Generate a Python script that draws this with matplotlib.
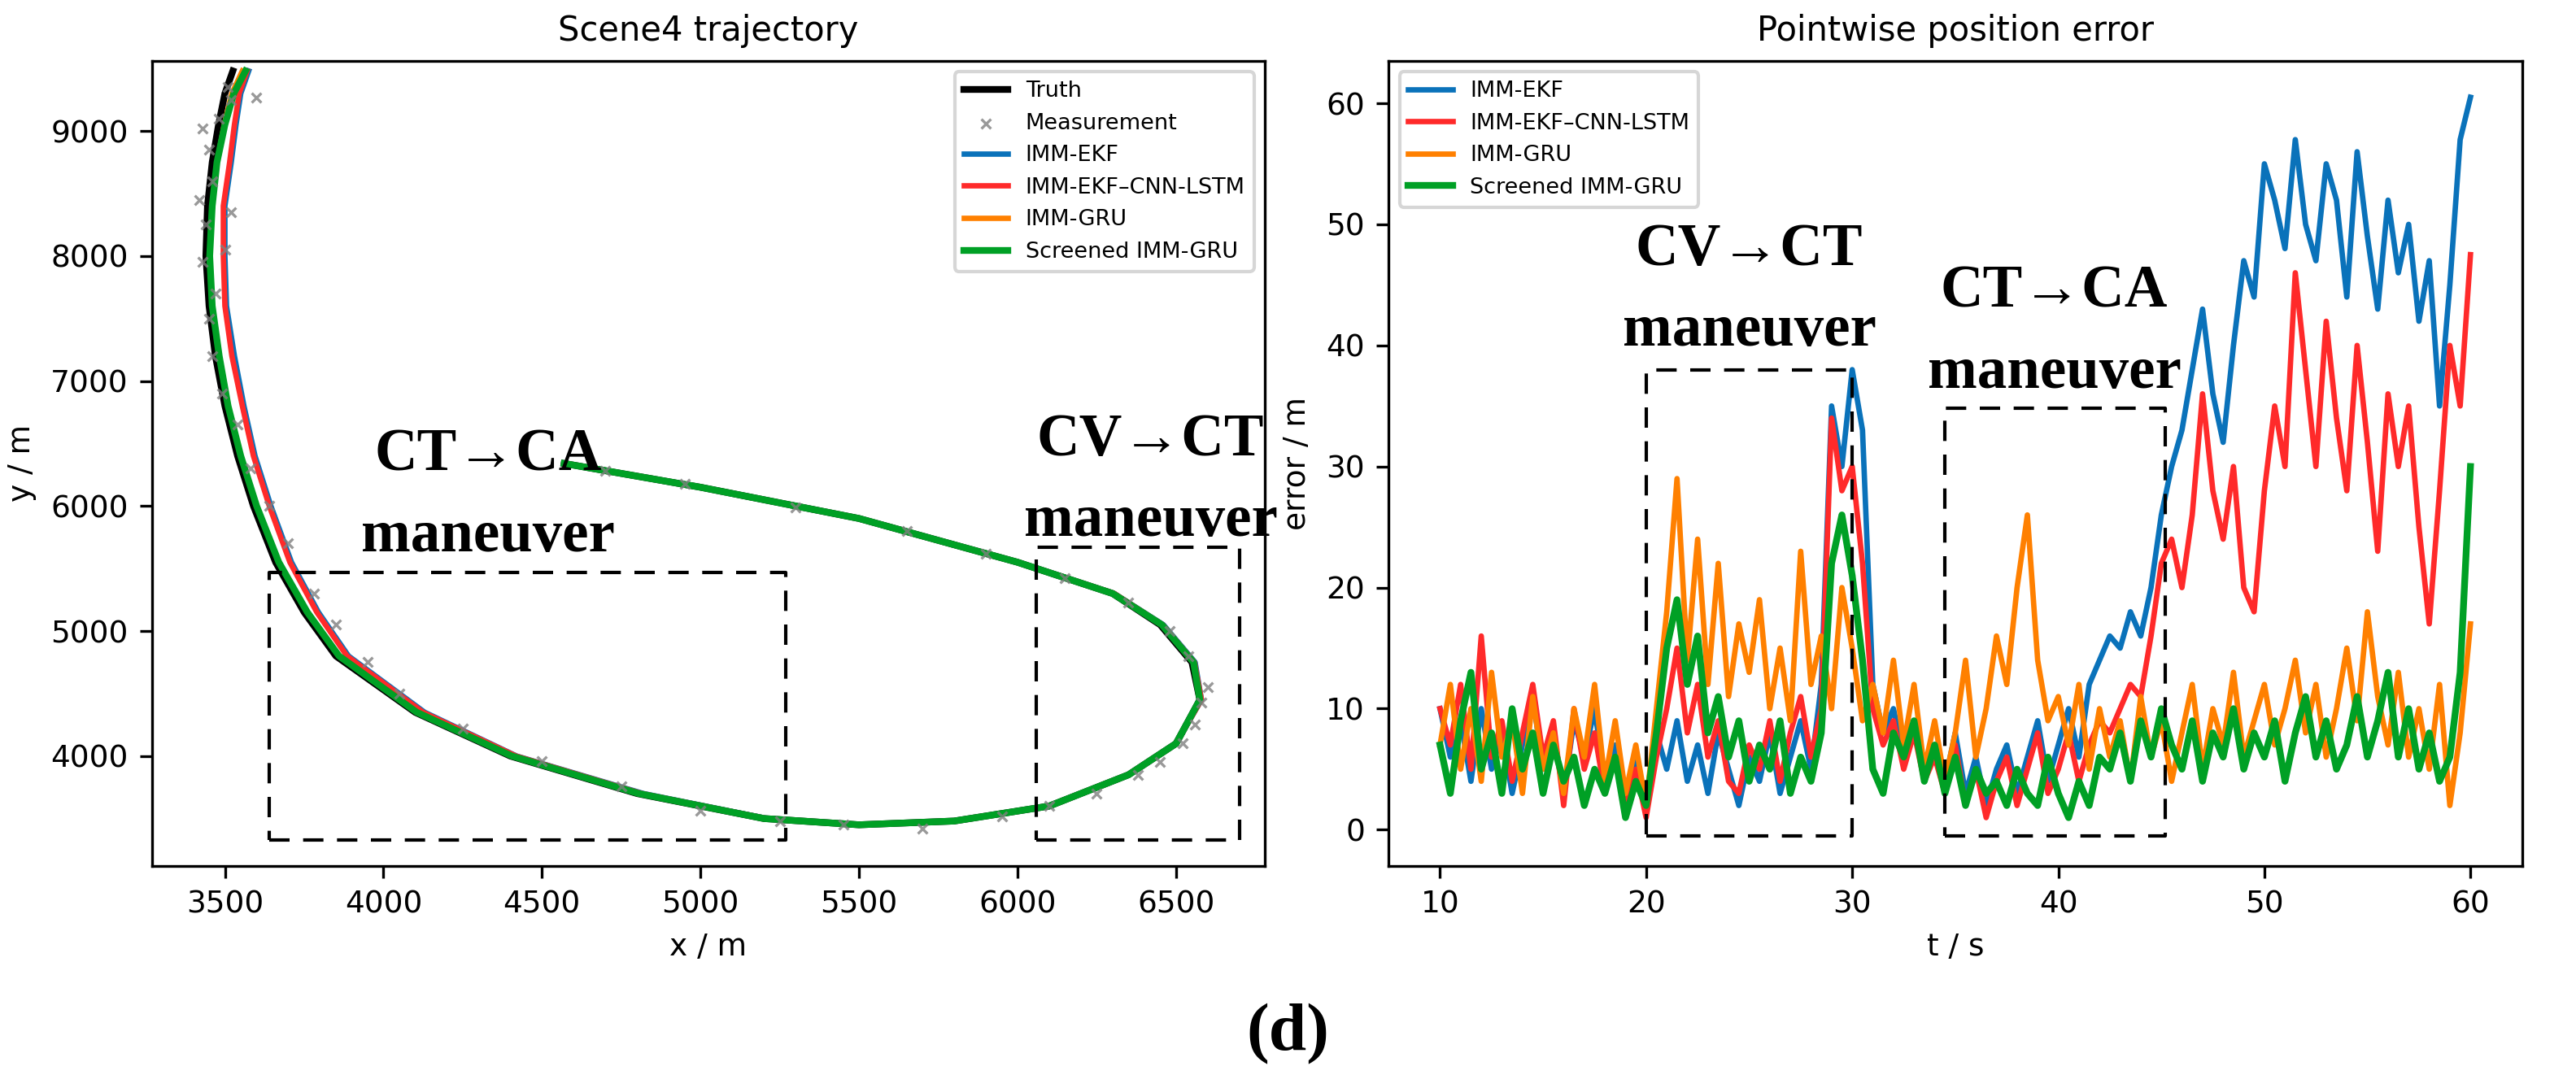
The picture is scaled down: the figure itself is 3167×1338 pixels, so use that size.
import numpy as np
import matplotlib.pyplot as plt

# --- trajectory (left panel) ---
truth_x = [4570, 5000, 5500, 6000, 6300, 6450, 6550, 6575, 6500, 6350, 6100, 5800, 5500, 5200, 4800, 4400,
           4100, 3850, 3750, 3660, 3590, 3540, 3500, 3470, 3450, 3440, 3445, 3460, 3480, 3500, 3525]
truth_y = [6340, 6150, 5900, 5550, 5300, 5050, 4750, 4450, 4100, 3850, 3600, 3480, 3450, 3500, 3700, 4000,
           4350, 4800, 5150, 5550, 6000, 6400, 6800, 7200, 7600, 8000, 8400, 8750, 9050, 9300, 9480]
ekf_dx = [0, 0, 0, 0, 5, 10, 10, 5, 0, 0, 0, 0, 0, 10, 20, 20, 30, 40, 45, 50, 55, 55, 60, 60, 55, 60, 55, 60, 55, 50, 50]
lstm_dx = [0, 0, 0, 0, 5, 8, 8, 5, 0, 0, 0, 0, 0, 8, 15, 18, 25, 35, 40, 45, 50, 50, 55, 52, 50, 55, 50, 55, 50, 45, 45]
gru_dx = [0, 0, 0, 0, 0, 5, 5, 0, 0, 0, 0, 0, 0, 0, 5, 5, 5, 10, 10, 10, 10, 10, 10, 12, 10, 12, 15, 15, 18, 22, 30]
scr_dx = [0, 0, 0, 0, 0, 5, 5, 0, 0, 0, 0, 0, 0, 0, 5, 5, 5, 10, 10, 10, 10, 10, 10, 12, 10, 12, 15, 15, 20, 28, 40]

meas_x = [4700, 4950, 5300, 5650, 5900, 6150, 6350, 6480, 6540, 6600, 6580, 6560, 6520, 6450, 6380, 6250,
          6100, 5950, 5700, 5450, 5250, 5000, 4750, 4500, 4250, 4050, 3950, 3850, 3780, 3700, 3640, 3580,
          3540, 3490, 3460, 3450, 3470, 3430, 3500, 3440, 3420, 3460, 3520, 3450, 3480, 3520, 3600, 3430, 3510]
meas_y = [6280, 6180, 5990, 5800, 5620, 5420, 5230, 5000, 4800, 4550, 4430, 4250, 4100, 3950, 3850, 3700,
          3600, 3520, 3420, 3450, 3480, 3560, 3760, 3960, 4220, 4500, 4750, 5050, 5300, 5700, 6000, 6300,
          6650, 6900, 7200, 7500, 7700, 7950, 8050, 8250, 8450, 8600, 8350, 8850, 9100, 9250, 9270, 9020, 9350]

# --- pointwise error (right panel), every 0.5 s from 10 to 60 s ---
err_ekf = [10, 6, 9, 4, 10, 5, 8, 3, 7, 11, 5, 8, 3, 9, 6, 10, 4, 7, 3, 6,
           2, 8, 5, 9, 4, 7, 3, 8, 5, 2, 6, 4, 8, 3, 6, 9, 5, 12, 35, 30,
           38, 33, 12, 8, 10, 6, 9, 5, 7, 4, 8, 3, 6, 2, 5, 7, 3, 6, 9, 4,
           7, 10, 6, 12, 14, 16, 15, 18, 16, 20, 26, 30, 33, 38, 43, 36, 32, 40, 47, 44,
           55, 52, 48, 57, 50, 47, 55, 52, 44, 56, 49, 43, 52, 46, 50, 42, 47, 35, 45, 57, 60.5]
err_lstm = [10, 7, 12, 5, 16, 6, 9, 4, 8, 12, 6, 9, 2, 10, 5, 8, 3, 6, 2, 5,
            1, 6, 10, 15, 8, 12, 6, 9, 4, 3, 7, 5, 9, 4, 8, 11, 6, 10, 34, 28,
            30, 22, 10, 7, 9, 5, 8, 4, 6, 3, 7, 2, 5, 1, 4, 6, 2, 5, 8, 3,
            5, 8, 4, 7, 9, 8, 10, 12, 11, 16, 22, 24, 20, 26, 36, 28, 24, 30, 20, 18,
            28, 35, 30, 46, 38, 30, 42, 34, 28, 40, 32, 23, 36, 30, 35, 25, 17, 28, 40, 35, 47.5]
err_gru = [7, 12, 5, 10, 4, 13, 6, 9, 3, 11, 5, 8, 3, 10, 6, 12, 4, 9, 3, 7,
           2, 10, 18, 29, 14, 24, 12, 22, 11, 17, 13, 19, 10, 15, 9, 23, 12, 16, 10, 20,
           15, 9, 12, 8, 14, 7, 12, 5, 9, 4, 8, 14, 6, 10, 16, 12, 20, 26, 14, 9,
           11, 7, 12, 5, 10, 6, 9, 4, 11, 6, 9, 4, 8, 12, 5, 10, 7, 13, 6, 9,
           12, 7, 10, 14, 8, 12, 6, 10, 15, 9, 18, 11, 7, 13, 6, 10, 5, 12, 2, 8, 17]
err_scr = [7, 3, 9, 13, 5, 8, 3, 10, 5, 8, 3, 7, 4, 6, 2, 5, 3, 6, 1, 4,
           2, 8, 15, 19, 12, 16, 8, 11, 6, 9, 4, 7, 5, 9, 3, 6, 4, 8, 22, 26,
           21, 14, 5, 3, 8, 6, 9, 4, 7, 3, 6, 2, 5, 3, 4, 2, 5, 3, 2, 6,
           3, 1, 4, 2, 6, 5, 8, 4, 9, 6, 10, 7, 5, 9, 4, 8, 6, 10, 5, 8,
           6, 9, 4, 8, 11, 6, 9, 5, 7, 11, 6, 9, 13, 6, 10, 5, 8, 4, 6, 13, 30]

c_ekf = '#0a72ba'
c_lstm = '#ff2a2a'
c_gru = '#ff8000'
c_scr = '#00a025'
serif = dict(family='Liberation Serif', fontweight='bold', fontsize=17.5, ha='center', linespacing=1.6)
box = dict(color='black', lw=1, ls=(0, (6, 4)))

fig = plt.figure(figsize=(10.557, 4.46), dpi=300)
ax1 = fig.add_axes([0.059, 0.204, 0.432, 0.74])
ax2 = fig.add_axes([0.539, 0.204, 0.44, 0.74])

tx = np.array(truth_x, float)
ty = np.array(truth_y, float)
ax1.plot(tx, ty, color='black', lw=2, label='Truth')
ax1.scatter(meas_x, meas_y, marker='x', s=8, color='gray', lw=0.8, alpha=0.8, label='Measurement', zorder=3)
ax1.plot(tx + np.array(ekf_dx), ty, color=c_ekf, lw=1.6, label='IMM-EKF')
ax1.plot(tx + np.array(lstm_dx), ty, color=c_lstm, lw=1.6, label='IMM-EKF\u2013CNN-LSTM')
ax1.plot(tx + np.array(gru_dx), ty, color=c_gru, lw=1.6, label='IMM-GRU')
ax1.plot(tx + np.array(scr_dx), ty, color=c_scr, lw=2, label='Screened IMM-GRU')
ax1.plot([3640, 5270, 5270, 3640, 3640], [3330, 3330, 5470, 5470, 3330], **box)
ax1.plot([6060, 6700, 6700, 6060, 6060], [3330, 3330, 5670, 5670, 3330], **box)
ax1.text(4330, 5640, 'CT\u2192CA\nmaneuver', **serif)
ax1.text(6420, 5760, 'CV\u2192CT\nmaneuver', **serif)
ax1.set_xlim(3270, 6780)
ax1.set_ylim(3120, 9560)
ax1.set_xticks(range(3500, 7000, 500))
ax1.set_xlabel('x / m', fontsize=9)
ax1.set_ylabel('y / m', fontsize=9)
ax1.set_title('Scene4 trajectory', fontsize=10)
ax1.tick_params(labelsize=9)
ax1.legend(loc='upper right', fontsize=6.5)

t = np.linspace(10, 60, len(err_ekf))
ax2.plot(t, err_ekf, color=c_ekf, lw=1.6, label='IMM-EKF')
ax2.plot(t, err_lstm, color=c_lstm, lw=1.6, label='IMM-EKF\u2013CNN-LSTM')
ax2.plot(t, err_gru, color=c_gru, lw=1.6, label='IMM-GRU')
ax2.plot(t, err_scr, color=c_scr, lw=2, label='Screened IMM-GRU')
ax2.plot([20, 30, 30, 20, 20], [-0.5, -0.5, 38, 38, -0.5], **box)
ax2.plot([34.5, 45.2, 45.2, 34.5, 34.5], [-0.5, -0.5, 34.8, 34.8, -0.5], **box)
ax2.text(25, 40, 'CV\u2192CT\nmaneuver', **serif)
ax2.text(39.8, 36.5, 'CT\u2192CA\nmaneuver', **serif)
ax2.set_xlim(7.5, 62.5)
ax2.set_ylim(-3, 63.5)
ax2.set_xlabel('t / s', fontsize=9)
ax2.set_ylabel('error / m', fontsize=9)
ax2.set_title('Pointwise position error', fontsize=10)
ax2.tick_params(labelsize=9)
ax2.legend(loc='upper left', fontsize=6.5)

fig.text(0.5, 0.035, '(d)', family='Liberation Serif', fontweight='bold', fontsize=20, ha='center')
fig.savefig('out.png', dpi=300)
